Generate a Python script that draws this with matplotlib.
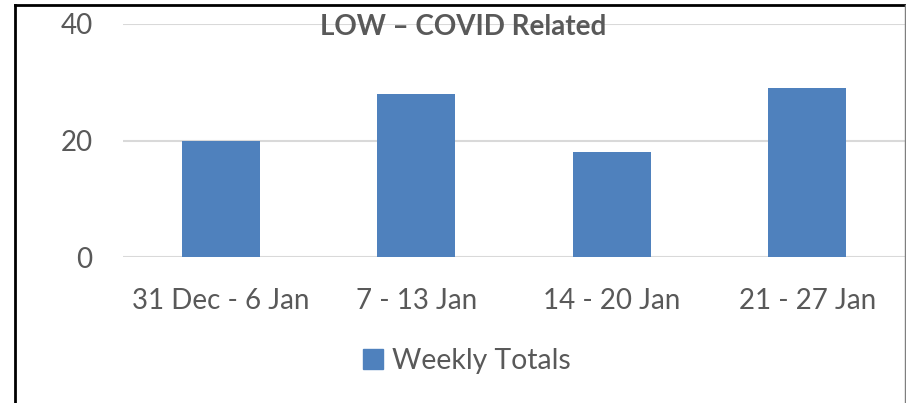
import matplotlib
matplotlib.use('Agg')
import matplotlib.pyplot as plt
from matplotlib.lines import Line2D
from matplotlib.patches import Patch

# data
weeks = ['31 Dec - 6 Jan', '7 - 13 Jan', '14 - 20 Jan', '21 - 27 Jan']
weekly_totals = [20, 28, 18, 29]
yticks = [0, 20, 40]

plt.rcParams['font.family'] = ['Lato', 'DejaVu Sans']
txt = '#595959'
bar_col = '#4F81BD'
grid_col = '#D9D9D9'

W, H = 906, 403
fig = plt.figure(figsize=(W / 100, H / 100), dpi=100)
ax = fig.add_axes([123 / W, 146 / H, (905 - 123) / W, (379 - 146) / H])

ax.bar(range(len(weeks)), weekly_totals, width=0.4, color=bar_col, zorder=2)
ax.set_xlim(-0.5, len(weeks) - 0.5)
ax.set_ylim(0, 40)
ax.set_yticks(yticks)
ax.set_xticks(range(len(weeks)))
ax.set_xticklabels(weeks)
for s in ax.spines.values():
    s.set_visible(False)
ax.yaxis.grid(True, color=grid_col, linewidth=1.5, zorder=0)
ax.set_axisbelow(True)
ax.tick_params(length=0, labelsize=20, colors=txt)
ax.tick_params(axis='x', pad=22)
ax.tick_params(axis='y', pad=22)

ax.text(0.435, 0.985, 'LOW \u2013 COVID Related', transform=ax.transAxes,
        ha='center', va='center', fontsize=20, fontweight='bold', color=txt, zorder=5)

leg = fig.legend(handles=[Patch(color=bar_col, label='Weekly Totals')],
                 loc='center', bbox_to_anchor=(467 / W, 1 - 361 / H),
                 frameon=False, fontsize=20.4, handlelength=0.7, handleheight=0.7,
                 handletextpad=0.3)
for t in leg.get_texts():
    t.set_color(txt)

# chart border
fig.add_artist(Line2D([15 / W, 15 / W], [0, 1 - 5 / H], color='black', linewidth=2))
fig.add_artist(Line2D([15 / W, 1], [1 - 5 / H, 1 - 5 / H], color='black', linewidth=2))
fig.add_artist(Line2D([905 / W, 905 / W], [0, 1 - 5 / H], color='#7F7F7F', linewidth=1))

fig.savefig('out.png', dpi=100)
